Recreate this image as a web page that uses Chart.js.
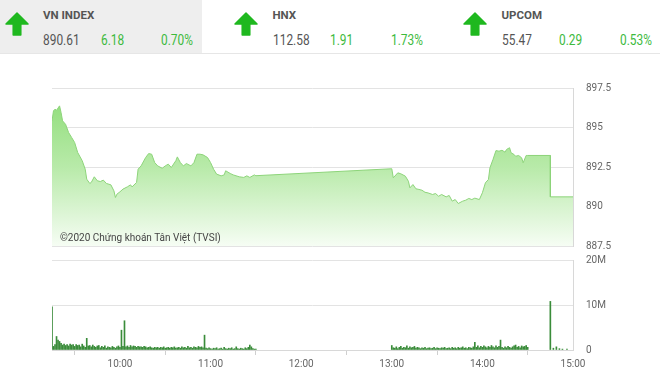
<!DOCTYPE html>
<html>
<head>
<meta charset="utf-8">
<script src="https://cdn.jsdelivr.net/npm/chart.js@4.4.1/dist/chart.umd.min.js"></script>
<style>
  body { margin: 0; width: 660px; height: 377px; background: #fff; position: relative; overflow: hidden; font-family: Roboto, sans-serif; }
  .tile { position: absolute; left: 0; top: 0; width: 202px; height: 53px; background: #eeeeee; }
  .rule { position: absolute; left: 0; top: 53px; width: 660px; height: 1px; background: #e6e6e6; }
  .arrow { position: absolute; top: 12px; }
  .name { position: absolute; top: 10px; font-size: 11.5px; line-height: 11px; font-weight: bold; color: #555; }
  .num { position: absolute; top: 33px; font-size: 14px; line-height: 14px; color: #555; transform: scaleX(0.85); transform-origin: left; white-space: nowrap; }
  .num.up { color: #3dba3d; }
  .box { position: absolute; left: 0; width: 660px; }
  .credit { position: absolute; left: 60px; top: 232px; font-size: 10px; line-height: 12px; color: #444; white-space: nowrap; }
</style>
</head>
<body>
<div class="tile"></div>
<div class="rule"></div>
<div id="header"></div>
<div class="box" style="top:80px;height:175px"><canvas id="priceChart"></canvas></div>
<div class="credit">©2020 Chứng khoán Tân Việt (TVSI)</div>
<div class="box" style="top:250px;height:127px"><canvas id="volumeChart"></canvas></div>

<script>
// header tiles
const indexNames = ["VN INDEX", "HNX", "UPCOM"];
const indexValues = ["890.61", "112.58", "55.47"];
const indexChanges = ["6.18", "1.91", "0.29"];
const indexPercents = ["0.70%", "1.73%", "0.53%"];

// price line (VN-Index, intraday)
const priceTimes = [
  "09:15","09:16","09:17","09:18","09:20","09:21","09:22","09:24","09:26","09:28",
  "09:30","09:32","09:35","09:37","09:38","09:40","09:41","09:43","09:45","09:47",
  "09:49","09:51","09:54","09:56","09:57","09:58","10:00","10:02","10:05","10:07",
  "10:08","10:11","10:12","10:14","10:17","10:19","10:21","10:23","10:25","10:28",
  "10:30","10:32","10:34","10:37","10:38","10:40","10:42","10:44","10:47","10:49",
  "10:51","10:53","10:55","10:58","11:00","11:02","11:04","11:07","11:09","11:10",
  "11:13","11:15","11:19","11:22","11:24","11:26","11:29","11:30",
  "13:00","13:01","13:04","13:06","13:09","13:11","13:12","13:14","13:16","13:18",
  "13:20","13:22","13:24","13:27","13:29","13:31","13:33","13:36","13:38","13:40",
  "13:42","13:44","13:47","13:49","13:51","13:53","13:55","13:58","14:00","14:02",
  "14:04","14:05","14:07","14:09","14:11","14:13","14:15","14:16","14:18","14:19",
  "14:21","14:22","14:24","14:26","14:27","14:29","14:30","14:45","14:45","15:00"
];
const priceValues = [
  895.42,896.06,896.16,896.09,896.37,895.95,895.42,895.20,894.68,894.37,
  894.05,893.42,892.90,892.36,891.73,891.46,891.52,891.88,891.63,891.58,
  891.67,891.46,891.37,890.99,890.57,890.78,890.93,891.10,891.25,891.37,
  891.24,891.52,892.36,892.57,893.10,893.35,893.31,892.78,892.57,892.42,
  892.57,892.68,892.47,892.90,893.14,892.78,892.57,892.72,892.57,892.78,
  893.31,893.31,893.27,893.10,892.78,892.36,892.05,891.94,892.00,892.26,
  892.09,892.00,891.88,891.84,891.94,891.84,892.00,891.95,
  892.39,891.82,892.13,892.07,891.92,891.60,891.18,891.39,891.12,891.08,
  891.03,890.90,890.86,890.76,890.82,890.65,890.76,890.61,890.70,890.34,
  890.44,890.19,890.34,890.40,890.51,890.44,890.53,890.44,890.87,891.50,
  891.71,892.45,892.97,893.54,893.50,893.56,893.44,893.61,893.72,893.40,
  893.29,893.18,893.23,893.08,892.77,893.23,893.23,893.23,890.61,890.61
];
const priceTicks = [887.5, 890, 892.5, 895, 897.5];

// volume bars, millions of shares, one per minute
const morningStart = "09:15";
const volMorning = [
  9.6,0.8,1.2,3.0,2.2,1.9,1.5,1.1,1.3,1.0, 1.2,0.9,1.3,1.1,1.2,0.8,1.2,1.0,1.1,0.7,
  1.3,0.9,0.6,2.6,0.9,1.0,0.7,1.1,0.8,0.6, 0.9,1.0,0.5,0.8,0.6,0.9,0.4,0.7,0.6,0.5,
  0.8,0.6,0.4,0.7,0.9,0.6,4.4,0.8,6.5,0.7, 0.9,0.6,1.0,0.7,0.9,0.8,0.6,0.8,0.7,0.7,
  0.6,0.8,0.7,0.5,0.6,0.7,0.5,0.4,0.6,0.5, 0.6,0.4,0.6,0.5,0.7,0.4,0.5,0.6,0.4,0.6,
  0.5,0.7,0.4,0.5,0.6,0.4,0.7,0.5,0.6,0.4, 0.8,0.5,0.6,0.4,0.7,0.6,0.5,0.8,0.6,0.7,
  0.5,3.3,0.4,0.3,0.5,0.3,0.2,0.4,0.3,0.5, 0.2,0.3,0.4,0.2,0.6,0.3,0.2,0.4,0.3,0.5,
  0.2,0.3,0.7,0.3,0.2,0.4,0.3,0.2,0.5,0.3, 0.6,1.1,0.7,0.3,0.2,0.2
];
const afternoonStart = "13:00";
const volAfternoon = [
  1.0,0.5,0.4,0.7,0.3,0.6,0.8,0.4,0.6,0.5, 0.9,0.4,0.7,0.5,0.6,0.8,0.4,0.6,0.5,0.3,
  0.5,0.4,0.6,0.3,0.4,0.5,0.3,0.4,0.6,0.3, 0.5,0.4,0.3,0.5,0.4,0.6,0.3,0.4,0.5,0.3,
  0.6,0.4,0.5,0.3,0.6,0.4,0.5,0.7,0.4,0.5, 0.3,0.6,0.5,0.4,0.7,1.7,0.6,0.9,0.5,0.8,
  0.6,0.9,0.7,0.5,0.8,0.6,1.0,0.7,0.5,0.9, 0.6,0.8,2.2,0.6,0.4,0.7,0.5,0.8,0.6,0.4,
  0.7,0.9,1.1,0.6,0.8,0.5,0.9,0.7,0.8,1.0, 0.6
];
const lateTimes = ["14:45", "14:47", "14:49", "14:51", "14:53", "14:56"];
const lateVolumes = [10.8, 0.4, 0.7, 0.3, 0.2, 0.2];
const volTicks = [0, 10, 20];
const volTickLabels = ["0", "10M", "20M"];

const timeTicks = ["10:00", "11:00", "12:00", "13:00", "14:00", "15:00"];
const openTime = "09:15";
const closeTime = "15:00";

const toMin = (s) => {
  const [h, m] = s.split(":").map(Number);
  return h * 60 + m;
};
const fmtTime = (v) => {
  const h = Math.floor(v / 60), m = v % 60;
  return h + ":" + String(m).padStart(2, "0");
};

// ---- header
const tileLefts = [43, 272.5, 501.5];
const arrowLefts = [5, 234, 463];
const header = document.getElementById("header");
const arrowSvg = '<svg width="24" height="24" viewBox="0 0 24 24"><path d="M12 1 L23 12 L15.8 12 L15.8 23 L8.2 23 L8.2 12 L1 12 Z" fill="#1fb81f" stroke="#1fb81f" stroke-width="1.5" stroke-linejoin="round"/></svg>';
indexNames.forEach((name, i) => {
  const x = tileLefts[i];
  header.insertAdjacentHTML("beforeend",
    `<div class="arrow" style="left:${arrowLefts[i]}px">${arrowSvg}</div>` +
    `<div class="name" style="left:${x}px">${name}</div>` +
    `<div class="num" style="left:${x}px">${indexValues[i]}</div>` +
    `<div class="num up" style="left:${x + 57.5}px">${indexChanges[i]}</div>` +
    `<div class="num up" style="left:${x + 118}px">${indexPercents[i]}</div>`);
});

Chart.defaults.font.family = "Roboto";

const pricePoints = priceTimes.map((t, i) => ({ x: toMin(t), y: priceValues[i] }));

const volPoints = [];
volMorning.forEach((v, i) => volPoints.push({ x: toMin(morningStart) + i, y: v }));
volAfternoon.forEach((v, i) => volPoints.push({ x: toMin(afternoonStart) + i, y: v }));
lateTimes.forEach((t, i) => volPoints.push({ x: toMin(t), y: lateVolumes[i] }));

const xMin = toMin(openTime);
const xMax = toMin(closeTime);

// right axis: fixed width, and no extra top/bottom room for the labels
const fitRightAxis = (s) => {
  s.width = 87;
  s.paddingTop = 0;
  s.paddingBottom = 0;
};

new Chart(document.getElementById("priceChart"), {
  type: "line",
  data: {
    datasets: [
      {
        data: pricePoints,
        borderColor: "#8dd47a",
        borderWidth: 1,
        pointRadius: 0,
        tension: 0,
        fill: "start",
        backgroundColor: (ctx) => {
          const area = ctx.chart.chartArea;
          if (!area) return "rgba(140,220,120,0.5)";
          const g = ctx.chart.ctx.createLinearGradient(0, area.top, 0, area.bottom);
          g.addColorStop(0, "#8bdc74");
          g.addColorStop(0.5, "#b8eaa9");
          g.addColorStop(1, "#f6fdf4");
          return g;
        },
      },
    ],
  },
  options: {
    responsive: true,
    maintainAspectRatio: false,
    animation: false,
    layout: { padding: { left: 52, top: 8, bottom: 9, right: 0 } },
    plugins: { legend: { display: false }, tooltip: { enabled: false } },
    scales: {
      x: { type: "linear", min: xMin, max: xMax, display: false },
      y: {
        position: "right",
        min: priceTicks[0],
        max: priceTicks[priceTicks.length - 1],
        afterBuildTicks: (s) => { s.ticks = priceTicks.map((v) => ({ value: v })); },
        afterFit: fitRightAxis,
        grid: { color: "#e3e3e3", drawTicks: false },
        border: { display: true, color: "#d8d8d8" },
        ticks: { padding: 13, color: "#666", font: { size: 10 }, callback: (v) => String(v) },
      },
    },
  },
});

new Chart(document.getElementById("volumeChart"), {
  type: "bar",
  data: {
    datasets: [
      {
        data: volPoints,
        backgroundColor: "#3a8c3a",
        borderWidth: 0,
        barThickness: 1,
      },
    ],
  },
  options: {
    responsive: true,
    maintainAspectRatio: false,
    animation: false,
    layout: { padding: { left: 52, top: 10, bottom: 0, right: 0 } },
    plugins: { legend: { display: false }, tooltip: { enabled: false } },
    scales: {
      x: {
        type: "linear",
        min: xMin,
        max: xMax,
        offset: false,
        afterBuildTicks: (s) => { s.ticks = timeTicks.map((t) => ({ value: toMin(t) })); },
        afterFit: (s) => { s.height = 27; },
        grid: { drawOnChartArea: false, drawTicks: true, tickLength: 5, color: "#cfcfcf" },
        border: { display: true, color: "#d8d8d8" },
        ticks: { padding: 3, color: "#666", font: { size: 10 }, maxRotation: 0, callback: (v) => fmtTime(v) },
      },
      y: {
        position: "right",
        min: volTicks[0],
        max: volTicks[volTicks.length - 1],
        afterBuildTicks: (s) => { s.ticks = volTicks.map((v) => ({ value: v })); },
        afterFit: fitRightAxis,
        grid: { color: "#e3e3e3", drawTicks: false },
        border: { display: true, color: "#d8d8d8" },
        ticks: { padding: 13, color: "#666", font: { size: 10 }, callback: (v) => volTickLabels[volTicks.indexOf(v)] },
      },
    },
  },
});
</script>
</body>
</html>
